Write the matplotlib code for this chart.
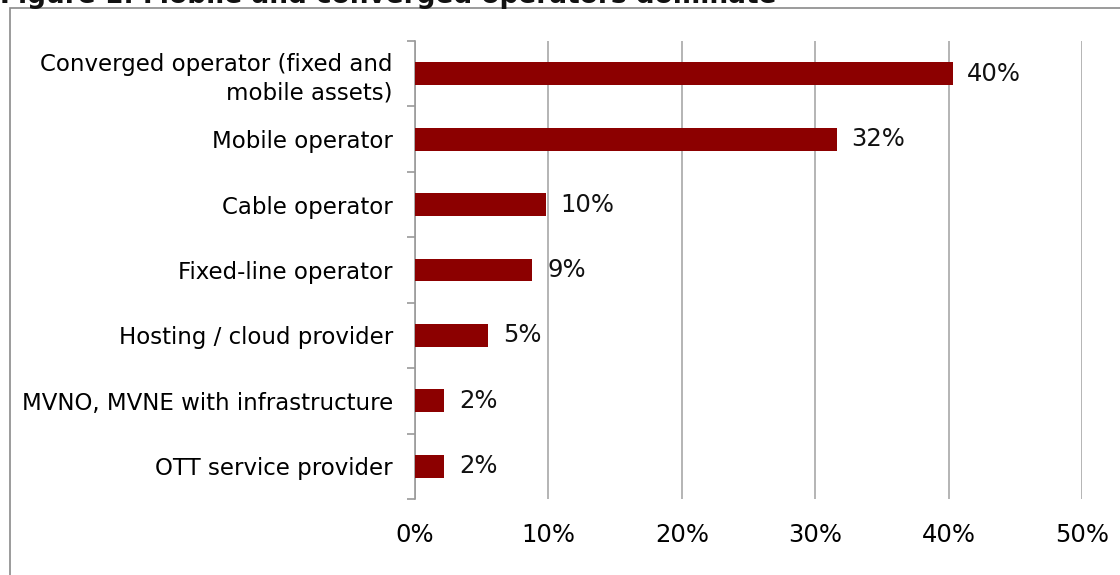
import matplotlib.pyplot as plt
from matplotlib.patches import Rectangle
from matplotlib.ticker import FuncFormatter

# data
categories = ['Converged operator (fixed and\nmobile assets)', 'Mobile operator',
              'Cable operator', 'Fixed-line operator', 'Hosting / cloud provider',
              'MVNO, MVNE with infrastructure', 'OTT service provider']
shares = [40.3, 31.6, 9.8, 8.8, 5.5, 2.2, 2.2]
share_labels = ['40%', '32%', '10%', '9%', '5%', '2%', '2%']
x_ticks = [0, 10, 20, 30, 40, 50]

plt.rcParams['font.family'] = ['DejaVu Sans']

fig = plt.figure(figsize=(11.2, 5.75), dpi=100)
ax = fig.add_axes([415 / 1120, 1 - 499 / 575, (1082 - 415) / 1120, (499 - 41) / 575])

ypos = list(range(len(categories)))
ax.barh(ypos, shares, height=0.35, color='#8c0000', zorder=3)
for y, v, lab in zip(ypos, shares, share_labels):
    ax.text(v + 1.1, y, lab, va='center', ha='left', fontsize=17.5, color='#111111')

ax.set_xlim(0, 50)
ax.set_ylim(len(categories) - 0.5, -0.5)
ax.set_xticks(x_ticks)
ax.xaxis.set_major_formatter(FuncFormatter(lambda v, p: '%d%%' % v))
ax.set_yticks(ypos)
ax.set_yticklabels(categories, fontsize=16.5, linespacing=1.3)
ax.set_yticks([i - 0.5 for i in range(len(categories) + 1)], minor=True)
ax.tick_params(axis='y', which='major', length=0, pad=16)
ax.tick_params(axis='y', which='minor', length=6, color='#9a9a9a', width=1.2)
ax.tick_params(axis='x', length=0, labelsize=17.5, pad=17)
ax.grid(axis='x', color='#a8a8a8', linewidth=1.2, zorder=0)

for s in ['top', 'right', 'bottom']:
    ax.spines[s].set_visible(False)
ax.spines['left'].set_color('#9a9a9a')
ax.spines['left'].set_linewidth(1.2)

# outer frame and cut-off title
fig.patches.append(Rectangle((10 / 1120, -0.1), 1.2, 1.1 - 8 / 575, transform=fig.transFigure,
                             fill=False, edgecolor='#8a8a8a', linewidth=1.2))
fig.text(0, 1 - 3 / 575, 'Figure 1: Mobile and converged operators dominate',
         fontsize=19, fontweight='bold', va='baseline', ha='left', color='#111111')

fig.savefig('out.png', dpi=100)
